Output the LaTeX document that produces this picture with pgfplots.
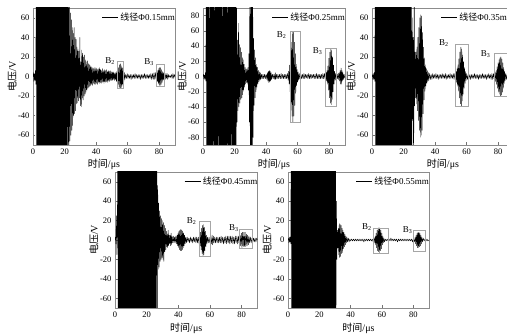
\documentclass[border=0pt]{standalone}
\usepackage{fontspec}
\setmainfont{Liberation Serif}
\newfontfamily\cjk{Noto Sans CJK SC}
\usepackage{pgfplots}
\pgfplotsset{compat=1.18}
\tikzset{
 bbox/.style={black!35, line width=0.5pt},
 blab/.style={font=\fontsize{9}{10}\selectfont, anchor=center},
}
\pgfplotsset{
 panel/.style={
  scale only axis, width=142pt, height=137pt,
  xmin=0, xmax=90, ymin=-70, ymax=70,
  xtick={0,20,40,60,80}, ytick={-60,-40,-20,0,20,40,60},
  axis line style={black!45, line width=0.5pt},
  tick style={black!55, line width=0.4pt},
  major tick length=2.5pt, tick align=inside, tick pos=left,
  tick label style={font=\fontsize{8.5}{9}\selectfont},
  /pgf/number format/assume math mode=true,
  xlabel={{\cjk 时间}/μs}, ylabel={{\cjk 电压}/V},
  label style={font=\fontsize{9}{10}\selectfont},
  every axis x label/.style={at={(axis description cs:0.5,0)}, anchor=center, yshift=-19pt},
  every axis y label/.style={at={(axis description cs:-0.148,0.5)}, anchor=center, rotate=90},
  legend style={at={(axis description cs:1,1)}, anchor=north east, draw=none, fill=none, inner sep=0pt, xshift=2pt, yshift=-3pt, font=\fontsize{9}{10}\selectfont},
  legend image code/.code={\draw[black, line width=0.6pt] (0pt,0pt) -- (16pt,0pt);},
 },
 wave/.style={black, line width=0.4pt, no marks, line join=round},
}
\begin{document}
\begin{tikzpicture}
% ---------- Panel 1 ----------
\begin{axis}[panel, at={(33pt,189pt)}, anchor=south west]
\addplot[wave] coordinates {
(0,0)(0.3,4)(0.6,-5)(0.9,3)(1.2,-4)(1.5,6)(1.8,-8)
(2.1,200)(2.4,-200)(2.7,200)(3.0,-200)(3.3,200)(3.6,-200)(3.9,200)(4.2,-200)(4.5,200)(4.8,-200)(5.1,200)(5.4,-200)(5.7,200)(6.0,-200)(6.3,200)(6.6,-200)(6.9,200)(7.2,-200)(7.5,200)(7.8,-200)(8.1,200)(8.4,-200)(8.7,200)(9.0,-200)(9.3,200)(9.6,-200)(9.9,200)(10.2,-200)(10.5,200)(10.8,-200)(11.1,200)(11.4,-200)(11.7,200)(12.0,-200)(12.3,200)(12.6,-200)(12.9,200)(13.2,-200)(13.5,200)(13.8,-200)(14.1,200)(14.4,-200)(14.7,200)(15.0,-200)(15.3,200)(15.6,-200)(15.9,200)(16.2,-200)(16.5,200)(16.8,-200)(17.1,200)(17.4,-200)(17.7,200)(18.0,-200)(18.3,200)(18.6,-200)(18.9,200)(19.2,-200)(19.5,200)(19.8,-200)(20.1,200)(20.4,-200)(20.7,200)(21.0,-200)(21.3,200)(21.6,-200)(21.9,200)
(22.2,-100)(22.5,90)(22.8,-75)(23.1,72)(23.4,-66)(23.7,65)(24.0,-60)(24.3,58)(24.6,-55)(24.9,50)(25.2,-50)(25.5,44)(25.8,-40)(26.1,50)(26.4,-38)(26.7,40)(27.0,-35)(27.3,38)(27.6,-28)(27.9,30)(28.2,-27)(28.5,28)(28.8,-25)(29.1,26)(29.4,-22)(29.7,40)(30.0,-30)(30.3,15)(30.6,-31)(30.9,27)(31.2,-22)(31.5,24)(31.8,-24)(32.1,20)(32.4,-20)(32.7,22)(33.0,-18)(33.3,17)(33.6,-16)(33.9,15)(34.2,-14)(34.5,16)(34.8,-12)(35.1,13)(35.4,-11)(35.7,12)(36.0,-10)(36.3,11)(36.6,-9)(36.9,10)(37.2,-8)(37.5,9)(37.8,-9)(38.1,8)(38.4,-7)(38.7,9)(39.0,-8)(39.3,7)(39.6,-8)(39.9,9)(40.2,-7)(40.5,8)(40.8,-8)(41.1,7)(41.4,-6)(41.7,8)(42.0,-7)(42.3,9)(42.6,-6)(42.9,7)(43.2,-7)(43.5,6)(43.8,-6)(44.1,8)(44.4,-5)(44.7,6)(45.0,-7)(45.3,7)(45.6,-5)(45.9,6)(46.2,-6)(46.5,7)(46.8,-5)(47.1,5)(47.4,-6)(47.7,6)(48.0,-4)(48.3,5)(48.6,-5)(48.9,6)(49.2,-4)(49.5,5)(49.8,-4)(50.1,4)(50.4,-4)(50.7,5)(51.0,-3)(51.3,4)(51.6,-4)(51.9,3)(52.2,-3)(52.5,4)(52.8,-5)(53.1,5)(53.4,-6)(53.7,7)(54.0,-8)(54.3,9)(54.6,-11)(54.9,12)(55.2,-12)(55.5,13)(55.8,-12)(56.1,11)(56.4,-10)(56.7,9)(57.0,-8)(57.3,6)(57.6,-5)(57.9,4)(58.2,-3)
(58.7,2)(59.2,-2)(59.7,3)(60.2,-2)(60.7,2)(61.2,-2)(61.7,2)(62.2,-3)(62.7,2)(63.2,-2)(63.7,2)(64.2,-2)(64.7,3)(65.2,-2)(65.7,2)(66.2,-2)(66.7,2)(67.2,-2)(67.7,2)(68.2,-3)(68.7,2)(69.2,-2)(69.7,2)(70.2,-2)(70.7,3)(71.2,-2)(71.7,2)(72.2,-2)(72.7,2)(73.2,-2)(73.7,2)(74.2,-2)(74.7,3)(75.2,-3)(75.7,3)(76.2,-3)(76.7,4)(77.2,-3)(77.7,4)(78.2,-4)
(78.5,4)(78.8,-5)(79.1,6)(79.4,-7)(79.7,8)(80.0,-9)(80.3,9)(80.6,-9)(80.9,9)(81.2,-8)(81.5,7)(81.8,-6)(82.1,5)(82.4,-4)(82.7,4)(83.0,-3)(83.4,3)(83.8,-3)(84.2,3)(84.6,-2)(85.0,3)(85.4,-3)(85.8,2)(86.2,-1)(86.7,1)(87.2,-1)(87.7,2)(88.2,-2)(88.7,3)(89.2,-2)(89.6,2)(90,0)
};
\addlegendentry{{\cjk 线径}Φ0.15mm}
\draw[bbox] (axis cs:53.3,15.4) rectangle (axis cs:57.1,-12);
\draw[bbox] (axis cs:77.9,12.7) rectangle (axis cs:83.4,-9.6);
\node[blab] at (axis cs:48.9,16) {B\textsubscript{2}};
\node[blab] at (axis cs:73.6,14.8) {B\textsubscript{3}};
\end{axis}
% ---------- Panel 2 ----------
\begin{axis}[panel, at={(203pt,189pt)}, anchor=south west, ymin=-90, ymax=90, ytick={-80,-60,-40,-20,0,20,40,60,80}]
\addplot[wave] coordinates {
(0,0)(0.3,3)(0.6,-3)(0.9,2)(1.2,-4)(1.5,5)(1.8,-6)
(2.1,200)(2.4,-200)(2.7,200)(3.0,-200)(3.3,200)(3.6,-200)(3.9,200)(4.2,-200)(4.5,200)(4.8,-200)(5.1,200)(5.4,-200)(5.7,200)(6.0,-200)(6.3,200)(6.6,-200)(6.9,200)(7.2,-200)(7.5,200)(7.8,-200)(8.1,200)(8.4,-200)(8.7,200)(9.0,-200)(9.3,200)(9.6,-200)(9.9,200)(10.2,-200)(10.5,200)(10.8,-200)(11.1,200)(11.4,-200)(11.7,200)(12.0,-200)(12.3,200)(12.6,-200)(12.9,200)(13.2,-200)(13.5,200)(13.8,-200)(14.1,200)(14.4,-200)(14.7,200)(15.0,-200)(15.3,200)(15.6,-200)(15.9,200)(16.2,-200)(16.5,200)(16.8,-200)(17.1,200)(17.4,-200)(17.7,200)(18.0,-200)(18.3,200)(18.6,-200)(18.9,200)(19.2,-200)(19.5,200)(19.8,-200)(20.1,200)(20.4,-200)(20.7,200)
(21.0,-150)(21.3,90)(21.6,-60)(21.9,48)(22.2,-45)(22.5,70)(22.8,-40)(23.1,42)(23.4,-35)(23.7,38)(24.0,-30)(24.3,32)(24.6,-28)(24.9,25)(25.2,-24)(25.5,22)(25.8,-18)(26.1,16)(26.4,-14)(26.7,12)(27.0,-10)(27.3,10)(27.6,-8)(27.9,9)(28.2,-10)(28.5,12)(28.8,-18)(29.1,30)(29.4,-60)(29.7,150)(30.0,-150)(30.3,150)(30.6,-150)(30.9,150)(31.2,-150)(31.5,120)(31.8,-80)(32.1,50)(32.4,-38)(32.7,35)(33.0,-28)(33.3,25)(33.6,-20)(33.9,16)(34.2,-14)(34.5,12)(34.8,-10)(35.1,8)(35.4,-7)(35.7,6)(36.0,-5)(36.3,5)(36.6,-4)(37.0,3)(37.5,-3)(38.0,3)(38.5,-3)(39.0,3)(39.5,-3)(40.0,3)(40.5,-4)(40.8,5)(41.1,-6)(41.4,7)(41.7,-8)(42.0,8)(42.3,-7)(42.6,7)(42.9,-6)(43.2,5)(43.5,-4)(44.0,3)(44.5,-3)(45.0,3)(45.5,-4)(45.8,5)(46.1,-4)(46.5,3)(47.0,-3)(47.5,3)(48.0,-3)(48.5,3)(49.0,-3)(49.5,4)(50.0,-3)(50.5,3)(51.0,-3)(51.5,3)(52.0,-3)(52.5,3)(53.0,-3)(53.5,4)(54.0,-5)(54.3,7)(54.6,-10)(54.9,15)(55.2,-20)(55.5,28)(55.8,-35)(56.1,45)(56.4,-52)(56.7,58)(57.0,-60)(57.3,58)(57.6,-52)(57.9,45)(58.2,-38)(58.5,30)(58.8,-22)(59.1,16)(59.4,-12)(59.7,9)(60.0,-7)(60.3,6)(60.6,-5)(61.0,4)(61.5,-4)(62.0,3)(62.5,-3)(63.0,3)(63.5,-3)(64.0,4)(64.5,-3)(65.0,3)(65.5,-2)(66.0,3)(66.5,-3)(67.0,4)(67.5,-3)(68.0,3)(68.5,-3)(69.0,3)(69.5,-2)(70.0,3)(70.5,-3)(71.0,3)(71.5,-3)(72.0,4)(72.5,-3)(73.0,3)(73.5,-3)(74.0,3)(74.5,-3)(75.0,3)(75.5,-3)(76.0,4)(76.5,-3)(77.0,4)(77.5,-4)(78.0,5)(78.3,-6)(78.6,8)(78.9,-10)(79.2,14)(79.5,-18)(79.8,24)(80.1,-28)(80.4,32)(80.7,-35)(81.0,36)(81.3,-37)(81.6,34)(81.9,-30)(82.2,25)(82.5,-20)(82.8,15)(83.1,-10)(83.4,7)(83.7,-5)(84.0,4)(84.4,-4)(84.8,3)(85.2,-3)(85.6,4)(86.0,-4)(86.3,5)(86.6,-6)(86.9,8)(87.2,-10)(87.5,11)(87.8,-10)(88.1,8)(88.4,-6)(88.7,5)(89.0,-4)(89.4,3)(89.8,-2)(90,0)
};
\addlegendentry{{\cjk 线径}Φ0.25mm}
\draw[bbox] (axis cs:55.6,59.7) rectangle (axis cs:61.9,-59.7);
\draw[bbox] (axis cs:77.7,36.8) rectangle (axis cs:84.2,-38.9);
\node[blab] at (axis cs:49.9,54) {B\textsubscript{2}};
\node[blab] at (axis cs:72.6,33.7) {B\textsubscript{3}};
\end{axis}
% ---------- Panel 3 ----------
\begin{axis}[panel, at={(372pt,189pt)}, anchor=south west]
\addplot[wave] coordinates {
(0,0)(0.3,2)(0.6,-3)(0.9,3)(1.2,-3)(1.5,4)(1.8,-5)
(2.1,200)(2.4,-200)(2.7,200)(3.0,-200)(3.3,200)(3.6,-200)(3.9,200)(4.2,-200)(4.5,200)(4.8,-200)(5.1,200)(5.4,-200)(5.7,200)(6.0,-200)(6.3,200)(6.6,-200)(6.9,200)(7.2,-200)(7.5,200)(7.8,-200)(8.1,200)(8.4,-200)(8.7,200)(9.0,-200)(9.3,200)(9.6,-200)(9.9,200)(10.2,-200)(10.5,200)(10.8,-200)(11.1,200)(11.4,-200)(11.7,200)(12.0,-200)(12.3,200)(12.6,-200)(12.9,200)(13.2,-200)(13.5,200)(13.8,-200)(14.1,200)(14.4,-200)(14.7,200)(15.0,-200)(15.3,200)(15.6,-200)(15.9,200)(16.2,-200)(16.5,200)(16.8,-200)(17.1,200)(17.4,-200)(17.7,200)(18.0,-200)(18.3,200)(18.6,-200)(18.9,200)(19.2,-200)(19.5,200)(19.8,-200)(20.1,200)(20.4,-200)(20.7,200)(21.0,-200)(21.3,200)(21.6,-200)(21.9,200)(22.2,-200)(22.5,200)(22.8,-200)(23.1,200)(23.4,-200)(23.7,200)(24.0,-200)(24.3,200)(24.6,-200)(24.9,200)
(25.2,-120)(25.5,60)(25.8,-45)(26.1,40)(26.4,-150)(26.7,150)(27.0,-30)(27.3,25)(27.6,-22)(27.9,25)(28.2,-28)(28.5,30)(28.8,-35)(29.1,40)(29.4,-45)(29.7,50)(30.0,-55)(30.3,60)(30.6,-62)(30.9,63)(31.2,-60)(31.5,62)(31.8,-55)(32.1,45)(32.4,-38)(32.7,30)(33.0,-24)(33.3,19)(33.6,-15)(33.9,12)(34.2,-10)(34.5,8)(34.8,-7)(35.1,6)(35.4,-5)(35.7,4)(36.0,-4)(36.5,3)(37.0,-3)(37.5,2)(38.0,-3)(38.5,3)(39.0,-2)(39.5,2)(40.0,-2)(40.5,3)(41.0,-2)(41.5,2)(42.0,-3)(42.5,2)(43.0,-2)(43.5,2)(44.0,-2)(44.5,3)(45.0,-2)(45.5,2)(46.0,-2)(46.5,3)(47.0,-3)(47.5,2)(48.0,-2)(48.5,2)(49.0,-2)(49.5,3)(50.0,-2)(50.5,2)(51.0,-2)(51.5,3)(52.0,-3)(52.5,3)(53.0,-4)(53.3,5)(53.6,-6)(53.9,8)(54.2,-10)(54.5,12)(54.8,-15)(55.1,18)(55.4,-22)(55.7,25)(56.0,-28)(56.3,30)(56.6,-30)(56.9,28)(57.2,-25)(57.5,22)(57.8,-18)(58.1,15)(58.4,-12)(58.7,9)(59.0,-7)(59.3,5)(59.6,-4)(60.0,3)(60.5,-3)(61.0,2)(61.5,-2)(62.0,2)(62.5,-3)(63.0,2)(63.5,-2)(64.0,2)(64.5,-2)(65.0,3)(65.5,-2)(66.0,2)(66.5,-2)(67.0,2)(67.5,-3)(68.0,2)(68.5,-2)(69.0,2)(69.5,-2)(70.0,3)(70.5,-2)(71.0,2)(71.5,-2)(72.0,2)(72.5,-3)(73.0,2)(73.5,-2)(74.0,3)(74.5,-2)(75.0,2)(75.5,-3)(76.0,3)(76.5,-3)(77.0,3)(77.5,-3)(78.0,4)(78.4,-5)(78.7,6)(79.0,-8)(79.3,10)(79.6,-12)(79.9,14)(80.2,-16)(80.5,17)(80.8,-18)(81.1,19)(81.4,-20)(81.7,20)(82.0,-19)(82.3,18)(82.6,-16)(82.9,14)(83.2,-12)(83.5,9)(83.8,-7)(84.1,5)(84.4,-4)(84.8,3)(85.3,-3)(85.8,3)(86.3,-2)(86.8,2)(87.3,-2)(87.8,2)(88.3,-2)(88.8,2)(89.3,-2)(90,0)
};
\addlegendentry{{\cjk 线径}Φ0.35mm}
\draw[bbox] (axis cs:52.5,32.6) rectangle (axis cs:61,-30.8);
\draw[bbox] (axis cs:77.5,24) rectangle (axis cs:85.5,-20.5);
\node[blab] at (axis cs:45.5,34.3) {B\textsubscript{2}};
\node[blab] at (axis cs:72,23) {B\textsubscript{3}};
\end{axis}
% ---------- Panel 4 ----------
\begin{axis}[panel, at={(115pt,26pt)}, anchor=south west, width=142.5pt, height=136pt,
  every axis x label/.style={at={(axis description cs:0.5,0)}, anchor=center, yshift=-20pt}]
\addplot[wave] coordinates {
(0,0)(0.3,3)(0.6,-4)(0.9,25)(1.2,-15)(1.5,6)
(1.8,200)(2.1,-200)(2.4,200)(2.7,-200)(3.0,200)(3.3,-200)(3.6,200)(3.9,-200)(4.2,200)(4.5,-200)(4.8,200)(5.1,-200)(5.4,200)(5.7,-200)(6.0,200)(6.3,-200)(6.6,200)(6.9,-200)(7.2,200)(7.5,-200)(7.8,200)(8.1,-200)(8.4,200)(8.7,-200)(9.0,200)(9.3,-200)(9.6,200)(9.9,-200)(10.2,200)(10.5,-200)(10.8,200)(11.1,-200)(11.4,200)(11.7,-200)(12.0,200)(12.3,-200)(12.6,200)(12.9,-200)(13.2,200)(13.5,-200)(13.8,200)(14.1,-200)(14.4,200)(14.7,-200)(15.0,200)(15.3,-200)(15.6,200)(15.9,-200)(16.2,200)(16.5,-200)(16.8,200)(17.1,-200)(17.4,200)(17.7,-200)(18.0,200)(18.3,-200)(18.6,200)(18.9,-200)(19.2,200)(19.5,-200)(19.8,200)(20.1,-200)(20.4,200)(20.7,-200)(21.0,200)(21.3,-200)(21.6,200)(21.9,-200)(22.2,200)(22.5,-200)(22.8,200)(23.1,-200)(23.4,200)(23.7,-200)(24.0,200)(24.3,-200)(24.6,200)(24.9,-200)(25.2,200)(25.5,-200)(25.8,200)(26.1,-200)(26.4,200)
(26.7,-80)(27.0,56)(27.3,-30)(27.6,38)(27.9,-28)(28.2,30)(28.5,-22)(28.8,25)(29.1,-20)(29.4,22)(29.7,-18)(30.0,20)(30.3,-20)(30.6,18)(30.9,-22)(31.2,15)(31.5,-12)(31.8,12)(32.1,-10)(32.4,9)(32.7,-7)(33.0,6)(33.3,-8)(33.6,10)(33.9,-6)(34.2,5)(34.5,-4)(34.8,5)(35.1,-6)(35.4,7)(35.7,-5)(36.0,4)(36.4,-3)(36.8,4)(37.2,-3)(37.6,3)(38.0,-3)(38.4,4)(38.8,-4)(39.2,5)(39.5,-6)(39.8,7)(40.1,-8)(40.4,9)(40.7,-10)(41.0,10)(41.3,-11)(41.6,11)(41.9,-11)(42.2,10)(42.5,-10)(42.8,9)(43.1,-8)(43.4,7)(43.7,-6)(44.0,5)(44.3,-4)(44.7,3)(45.1,-3)(45.6,3)(46.1,-2)(46.6,2)(47.1,-3)(47.6,3)(48.1,-2)(48.6,2)(49.1,-3)(49.6,3)(50.1,-2)(50.6,3)(51.1,-3)(51.6,3)(52.1,-3)(52.6,3)(53.1,-4)(53.5,5)(53.8,-6)(54.1,8)(54.4,-10)(54.7,12)(55.0,-14)(55.3,15)(55.6,-17)(55.9,16)(56.2,-15)(56.5,13)(56.8,-11)(57.1,9)(57.4,-7)(57.7,5)(58.0,-4)(58.4,3)(58.9,-3)(59.4,3)(59.9,-3)(60.4,3)(60.9,-4)(61.3,5)(61.7,-5)(62.1,4)(62.5,-3)(63.0,3)(63.5,-3)(64.0,3)(64.5,-3)(65.0,3)(65.5,-3)(66.0,3)(66.5,-3)(67.0,4)(67.5,-3)(68.0,3)(68.5,-4)(69.0,3)(69.5,-3)(70.0,4)(70.5,-4)(71.0,4)(71.5,-3)(72.0,4)(72.5,-4)(73.0,4)(73.5,-3)(74.0,4)(74.5,-4)(75.0,3)(75.5,-4)(76.0,4)(76.5,-3)(77.0,4)(77.5,-4)(78.0,4)(78.5,-4)(79.0,5)(79.4,-6)(79.8,7)(80.2,-8)(80.6,8)(81.0,-7)(81.4,8)(81.8,-7)(82.2,8)(82.6,-7)(83.0,6)(83.4,-6)(83.8,5)(84.2,-5)(84.6,4)(85.0,-3)(85.5,3)(86.0,-3)(86.5,2)(87.0,-2)(87.5,2)(88.0,-2)(88.5,2)(89.0,-2)(89.5,2)(90,0)
};
\addlegendentry{{\cjk 线径}Φ0.45mm}
\draw[bbox] (axis cs:53.1,19) rectangle (axis cs:60.4,-16.6);
\draw[bbox] (axis cs:78.5,10.8) rectangle (axis cs:86.4,-8);
\node[blab] at (axis cs:48.4,19.3) {B\textsubscript{2}};
\node[blab] at (axis cs:75.1,12.5) {B\textsubscript{3}};
\end{axis}
% ---------- Panel 5 ----------
\begin{axis}[panel, at={(288pt,26pt)}, anchor=south west, width=141pt, height=136pt,
  every axis x label/.style={at={(axis description cs:0.5,0)}, anchor=center, yshift=-20pt}]
\addplot[wave] coordinates {
(0,0)(0.3,2)(0.6,-3)(0.9,3)(1.2,-2)(1.5,3)(1.8,-4)
(2.1,200)(2.4,-200)(2.7,200)(3.0,-200)(3.3,200)(3.6,-200)(3.9,200)(4.2,-200)(4.5,200)(4.8,-200)(5.1,200)(5.4,-200)(5.7,200)(6.0,-200)(6.3,200)(6.6,-200)(6.9,200)(7.2,-200)(7.5,200)(7.8,-200)(8.1,200)(8.4,-200)(8.7,200)(9.0,-200)(9.3,200)(9.6,-200)(9.9,200)(10.2,-200)(10.5,200)(10.8,-200)(11.1,200)(11.4,-200)(11.7,200)(12.0,-200)(12.3,200)(12.6,-200)(12.9,200)(13.2,-200)(13.5,200)(13.8,-200)(14.1,200)(14.4,-200)(14.7,200)(15.0,-200)(15.3,200)(15.6,-200)(15.9,200)(16.2,-200)(16.5,200)(16.8,-200)(17.1,200)(17.4,-200)(17.7,200)(18.0,-200)(18.3,200)(18.6,-200)(18.9,200)(19.2,-200)(19.5,200)(19.8,-200)(20.1,200)(20.4,-200)(20.7,200)(21.0,-200)(21.3,200)(21.6,-200)(21.9,200)(22.2,-200)(22.5,200)(22.8,-200)(23.1,200)(23.4,-200)(23.7,200)(24.0,-200)(24.3,200)(24.6,-200)(24.9,200)(25.2,-200)(25.5,200)(25.8,-200)(26.1,200)(26.4,-200)(26.7,200)(27.0,-200)(27.3,200)(27.6,-200)(27.9,200)(28.2,-200)(28.5,200)(28.8,-200)(29.1,200)(29.4,-200)(29.7,200)(30.0,-200)(30.3,200)
(30.6,-100)(30.9,40)(31.2,-20)(31.5,10)(31.8,-8)(32.1,12)(32.4,-15)(32.7,17)(33.0,-18)(33.3,16)(33.6,-17)(33.9,15)(34.2,-14)(34.5,12)(34.8,-13)(35.1,10)(35.4,-9)(35.7,8)(36.0,-7)(36.3,6)(36.6,-5)(36.9,4)(37.2,-3)(37.6,3)(38.0,-2)(38.5,2)(39.0,-2)(39.5,1)(40.0,-1)(40.6,1)(41.2,-1)(41.8,1)(42.4,-1)(43.0,1)(43.6,-1)(44.2,1)(44.8,-1)(45.4,1)(46.0,-1)(46.6,1)(47.2,-1)(47.8,1)(48.4,-2)(49.0,1)(49.6,-1)(50.2,1)(50.8,-1)(51.4,1)(52.0,-1)(52.6,1)(53.2,-1)(53.8,1)(54.4,-2)(55.0,2)(55.4,-3)(55.7,4)(56.0,-5)(56.3,7)(56.6,-8)(56.9,10)(57.2,-11)(57.5,12)(57.8,-12)(58.1,13)(58.4,-13)(58.7,12)(59.0,-11)(59.3,10)(59.6,-9)(59.9,7)(60.2,-5)(60.5,4)(60.8,-3)(61.2,2)(61.6,-2)(62.1,1)(62.7,-1)(63.3,1)(63.9,-1)(64.5,1)(65.1,-1)(65.7,2)(66.3,-1)(66.9,1)(67.5,-1)(68.1,1)(68.7,-1)(69.3,1)(69.9,-2)(70.5,1)(71.1,-1)(71.7,1)(72.3,-1)(72.9,1)(73.5,-1)(74.1,1)(74.7,-1)(75.3,1)(75.9,-1)(76.5,1)(77.1,-1)(77.7,1)(78.3,-1)(78.9,1)(79.5,-2)(80.1,2)(80.7,-2)(81.2,3)(81.5,-4)(81.8,5)(82.1,-6)(82.4,7)(82.7,-8)(83.0,8)(83.3,-8)(83.6,8)(83.9,-7)(84.2,7)(84.5,-6)(84.8,5)(85.1,-4)(85.4,3)(85.8,-2)(86.3,2)(86.9,-1)(87.5,1)(88.1,-1)(88.7,1)(89.3,-1)(90,0)
};
\addlegendentry{{\cjk 线径}Φ0.55mm}
\draw[bbox] (axis cs:54.5,12.5) rectangle (axis cs:64,-13.5);
\draw[bbox] (axis cs:80,10.5) rectangle (axis cs:87.4,-11.5);
\node[blab] at (axis cs:50.3,13) {B\textsubscript{2}};
\node[blab] at (axis cs:76.4,9.7) {B\textsubscript{3}};
\end{axis}
\pgfresetboundingbox
\useasboundingbox (0pt,0pt) rectangle (507pt,334pt);
\end{tikzpicture}
\end{document}
